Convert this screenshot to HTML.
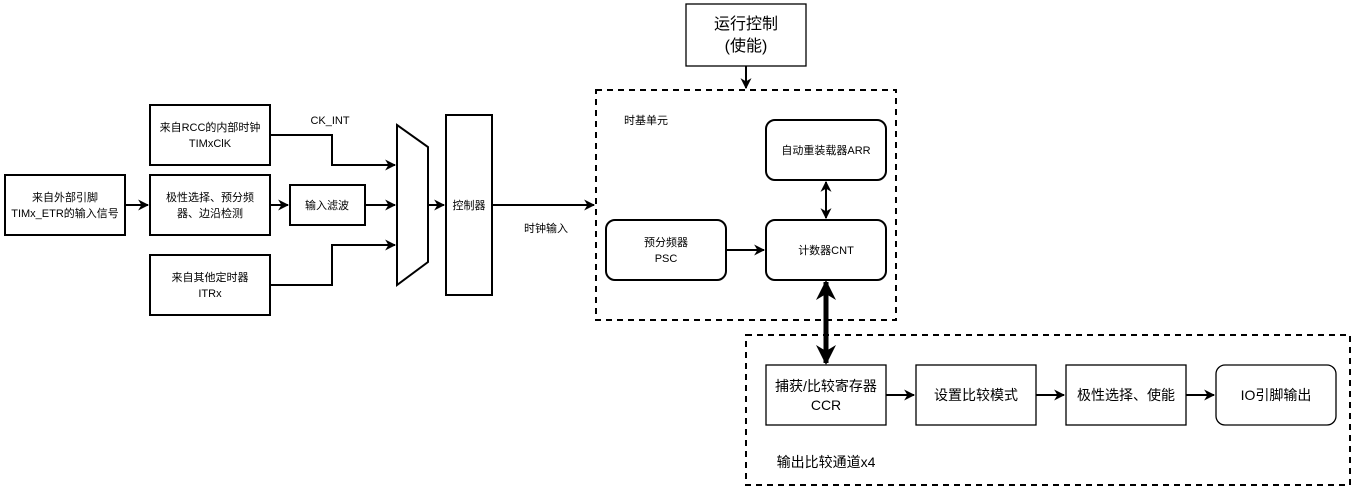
<!DOCTYPE html>
<html><head><meta charset="utf-8"><style>
body{margin:0;background:#fff}
svg text{font-family:"Liberation Sans","Noto Sans CJK SC",sans-serif;fill:#000}
</style></head><body>
<svg width="1353" height="492" viewBox="0 0 1353 492" xmlns="http://www.w3.org/2000/svg">
<defs>
<marker id="a" viewBox="0 0 10 10" refX="9" refY="5" markerWidth="11" markerHeight="11" markerUnits="userSpaceOnUse" orient="auto-start-reverse"><path d="M0,0 L10,5 L0,10 L3,5z" fill="#000"/></marker>
<marker id="b" viewBox="0 0 10 10" refX="9" refY="5" markerWidth="20" markerHeight="20" markerUnits="userSpaceOnUse" orient="auto-start-reverse"><path d="M0,0 L10,5 L0,10 L3,5z" fill="#000"/></marker>
</defs>
<g fill="none" stroke="#000" stroke-width="2">
<rect x="5" y="175" width="120" height="60"/>
<rect x="150" y="105" width="120" height="60"/>
<rect x="150" y="175" width="120" height="60"/>
<rect x="290" y="185" width="75" height="40"/>
<rect x="150" y="255" width="120" height="60"/>
<path d="M397,125 L428,147 L428,262 L397,285 Z"/>
<rect x="446" y="115" width="46" height="180"/>
<rect x="686" y="4" width="120" height="62" stroke-width="1.3"/>
<rect x="596" y="90" width="300" height="230" stroke-dasharray="6,5"/>
<rect x="746" y="335" width="604" height="150" stroke-dasharray="6,5"/>
<rect x="766" y="120" width="120" height="60" rx="9"/>
<rect x="766" y="220" width="120" height="60" rx="9"/>
<rect x="606" y="220" width="120" height="60" rx="9"/>
<rect x="766" y="365" width="120" height="60" stroke-width="1.3"/>
<rect x="916" y="365" width="120" height="60" stroke-width="1.3"/>
<rect x="1066" y="365" width="120" height="60" stroke-width="1.3"/>
<rect x="1216" y="365" width="120" height="60" rx="9" stroke-width="1.3"/>
<path d="M125,205 H148" marker-end="url(#a)"/>
<path d="M270,205 H288" marker-end="url(#a)"/>
<path d="M365,205 H395" marker-end="url(#a)"/>
<path d="M270,135 H332 V165 H395" marker-end="url(#a)"/>
<path d="M270,285 H332 V245 H395" marker-end="url(#a)"/>
<path d="M428,205 H444" marker-end="url(#a)"/>
<path d="M492,205 H594" marker-end="url(#a)"/>
<path d="M746,66 V88" marker-end="url(#a)"/>
<path d="M726,250 H764" marker-end="url(#a)"/>
<path d="M826,182 V218" marker-start="url(#a)" marker-end="url(#a)"/>
<path d="M826,282 V363" stroke-width="5" marker-start="url(#b)" marker-end="url(#b)"/>
<path d="M886,395 H914" marker-end="url(#a)"/>
<path d="M1036,395 H1064" marker-end="url(#a)"/>
<path d="M1186,395 H1214" marker-end="url(#a)"/>
</g>
<g font-size="11" text-anchor="middle">
<text x="65" y="201">来自外部引脚</text><text x="65" y="217">TIMx_ETR的输入信号</text>
<text x="210" y="131">来自RCC的内部时钟</text><text x="210" y="147">TIMxClK</text>
<text x="210" y="201">极性选择、预分频</text><text x="210" y="217">器、边沿检测</text>
<text x="327" y="209">输入滤波</text>
<text x="210" y="281">来自其他定时器</text><text x="210" y="297">ITRx</text>
<text x="469" y="209">控制器</text>
<text x="330" y="124">CK_INT</text>
<text x="546" y="232">时钟输入</text>
<text x="646" y="124">时基单元</text>
<text x="826" y="154">自动重装载器ARR</text>
<text x="826" y="254">计数器CNT</text>
<text x="666" y="246">预分频器</text><text x="666" y="262">PSC</text>
</g>
<g font-size="16" text-anchor="middle">
<text x="746" y="29">运行控制</text><text x="746" y="51">(使能)</text>
</g>
<g font-size="14" text-anchor="middle">
<text x="826" y="391">捕获/比较寄存器</text><text x="826" y="410">CCR</text>
<text x="976" y="400">设置比较模式</text>
<text x="1126" y="400">极性选择、使能</text>
<text x="1276" y="400">IO引脚输出</text>
<text x="826" y="467">输出比较通道x4</text>
</g>
</svg>
</body></html>
